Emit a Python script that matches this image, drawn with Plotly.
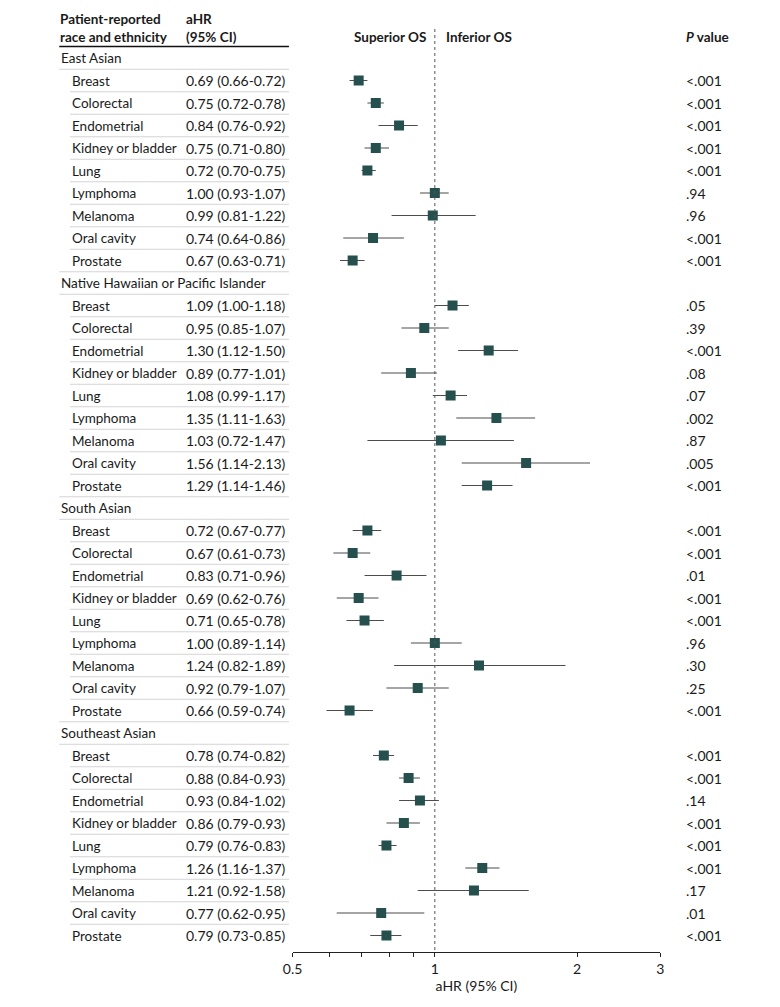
import numpy as np
import plotly.graph_objects as go

# ---- data ----
groups = ["East Asian", "Native Hawaiian or Pacific Islander", "South Asian", "Southeast Asian"]
cancers = ["Breast", "Colorectal", "Endometrial", "Kidney or bladder", "Lung",
           "Lymphoma", "Melanoma", "Oral cavity", "Prostate"]

east_hr = [0.69, 0.75, 0.84, 0.75, 0.72, 1.00, 0.99, 0.74, 0.67]
east_lo = [0.66, 0.72, 0.76, 0.71, 0.70, 0.93, 0.81, 0.64, 0.63]
east_hi = [0.72, 0.78, 0.92, 0.80, 0.75, 1.07, 1.22, 0.86, 0.71]
east_p = ["<.001", "<.001", "<.001", "<.001", "<.001", ".94", ".96", "<.001", "<.001"]

nhpi_hr = [1.09, 0.95, 1.30, 0.89, 1.08, 1.35, 1.03, 1.56, 1.29]
nhpi_lo = [1.00, 0.85, 1.12, 0.77, 0.99, 1.11, 0.72, 1.14, 1.14]
nhpi_hi = [1.18, 1.07, 1.50, 1.01, 1.17, 1.63, 1.47, 2.13, 1.46]
nhpi_p = [".05", ".39", "<.001", ".08", ".07", ".002", ".87", ".005", "<.001"]

south_hr = [0.72, 0.67, 0.83, 0.69, 0.71, 1.00, 1.24, 0.92, 0.66]
south_lo = [0.67, 0.61, 0.71, 0.62, 0.65, 0.89, 0.82, 0.79, 0.59]
south_hi = [0.77, 0.73, 0.96, 0.76, 0.78, 1.14, 1.89, 1.07, 0.74]
south_p = ["<.001", "<.001", ".01", "<.001", "<.001", ".96", ".30", ".25", "<.001"]

se_hr = [0.78, 0.88, 0.93, 0.86, 0.79, 1.26, 1.21, 0.77, 0.79]
se_lo = [0.74, 0.84, 0.84, 0.79, 0.76, 1.16, 0.92, 0.62, 0.73]
se_hi = [0.82, 0.93, 1.02, 0.93, 0.83, 1.37, 1.58, 0.95, 0.85]
se_p = ["<.001", "<.001", ".14", "<.001", "<.001", "<.001", ".17", ".01", "<.001"]

tick_vals = [0.5, 0.6, 0.7, 0.8, 0.9, 1, 2, 3]
tick_text = ["0.5", "", "", "", "", "1", "2", "3"]

all_hr = [east_hr, nhpi_hr, south_hr, se_hr]
all_lo = [east_lo, nhpi_lo, south_lo, se_lo]
all_hi = [east_hi, nhpi_hi, south_hi, se_hi]
all_p = [east_p, nhpi_p, south_p, se_p]

# page has an 8px body margin; keep the figure inside the window so nothing scrolls
OFF = 8
W, H = 780 - 2 * OFF, 1007 - 2 * OFF
FONT = "Lato"
ROW0, STEP = 58, 22.5          # page pixel centre of first row, row pitch
AXIS_Y = 952                   # page pixel of the x axis line
TXT = dict(family=FONT, size=13.5, color="#1a1a1a")
NUM = dict(family=FONT, size=14, color="#1a1a1a")


def row_of(py):
    return (py - ROW0) / STEP


def px(x):
    return (x - OFF) / W


annots = []
shapes = []


def sep(x0, y):
    shapes.append(dict(type="line", xref="paper", yref="y", x0=px(x0), x1=px(284),
                       y0=y, y1=y, line=dict(color="#d4d4d4", width=1)))


ys, hrs, los, his = [], [], [], []
r = 0
for g in range(len(groups)):
    annots.append(dict(x=px(50), y=r, text=groups[g], font=TXT))
    sep(50, r + 0.5)
    r += 1
    for k in range(len(cancers)):
        hr, lo, hi = all_hr[g][k], all_lo[g][k], all_hi[g][k]
        ys.append(r); hrs.append(hr); los.append(lo); his.append(hi)
        annots.append(dict(x=px(61), y=r, text=cancers[k], font=TXT))
        annots.append(dict(x=px(177), y=r, text=f"{hr:.2f} ({lo:.2f}-{hi:.2f})", font=NUM))
        annots.append(dict(x=px(686), y=r, text=all_p[g][k], font=NUM))
        if not (g == len(groups) - 1 and k == len(cancers) - 1):
            sep(50 if k == len(cancers) - 1 else 61, r + 0.5)
        r += 1

for a in annots:
    a.update(xref="paper", yref="y", xanchor="left", yanchor="middle", showarrow=False)

hdr = dict(xref="paper", yref="y", yanchor="middle", showarrow=False, font=TXT)
annots += [
    dict(hdr, x=px(49), y=row_of(19), text="<b>Patient-reported</b>", xanchor="left"),
    dict(hdr, x=px(49), y=row_of(37), text="<b>race and ethnicity</b>", xanchor="left"),
    dict(hdr, x=px(177), y=row_of(19), text="<b>aHR</b>", xanchor="left"),
    dict(hdr, x=px(177), y=row_of(37), text="<b>(95% CI)</b>", xanchor="left"),
    dict(hdr, x=px(426), y=row_of(37), text="<b>Superior OS</b>", xanchor="right"),
    dict(hdr, x=px(442), y=row_of(37), text="<b>Inferior OS</b>", xanchor="left"),
    dict(hdr, x=px(686), y=row_of(37), text="<b><i>P</i> value</b>", xanchor="left"),
]
shapes.append(dict(type="line", xref="paper", yref="y", x0=px(50), x1=px(284),
                   y0=row_of(46.5), y1=row_of(46.5), line=dict(color="#111111", width=1.4)))
# reference line at HR = 1
shapes.append(dict(type="line", xref="x", yref="y", x0=1, x1=1,
                   y0=row_of(29), y1=row_of(AXIS_Y), line=dict(color="#555555", width=1, dash="dot")))

fig = go.Figure()

# CI lines
cx, cy = [], []
for y, lo, hi in zip(ys, los, his):
    cx += [lo, hi, None]
    cy += [y, y, None]
fig.add_trace(go.Scatter(x=cx, y=cy, mode="lines", line=dict(color="#4d4d4d", width=1.1),
                         hoverinfo="skip", showlegend=False))
fig.add_trace(go.Scatter(x=hrs, y=ys, mode="markers",
                         marker=dict(symbol="square", size=10, color="#25504e"),
                         showlegend=False))

bottom = (H - (AXIS_Y - OFF)) / H
fig.update_layout(
    width=W, height=H, margin=dict(l=0, r=0, t=0, b=0),
    plot_bgcolor="white", paper_bgcolor="white",
    annotations=annots, shapes=shapes,
    xaxis=dict(type="log", domain=[px(287.7), px(662.3)],
               range=[np.log10(0.5), np.log10(3)],
               tickvals=tick_vals, ticktext=tick_text,
               showline=True, linecolor="#222222", linewidth=1,
               ticks="outside", ticklen=4, tickcolor="#222222",
               showgrid=False, zeroline=False,
               tickfont=NUM,
               title=dict(text="aHR (95% CI)", standoff=5, font=NUM)),
    yaxis=dict(domain=[bottom, 1], range=[row_of(AXIS_Y), row_of(OFF)],
               visible=False, showgrid=False, zeroline=False),
)

fig.write_html("out.html")
